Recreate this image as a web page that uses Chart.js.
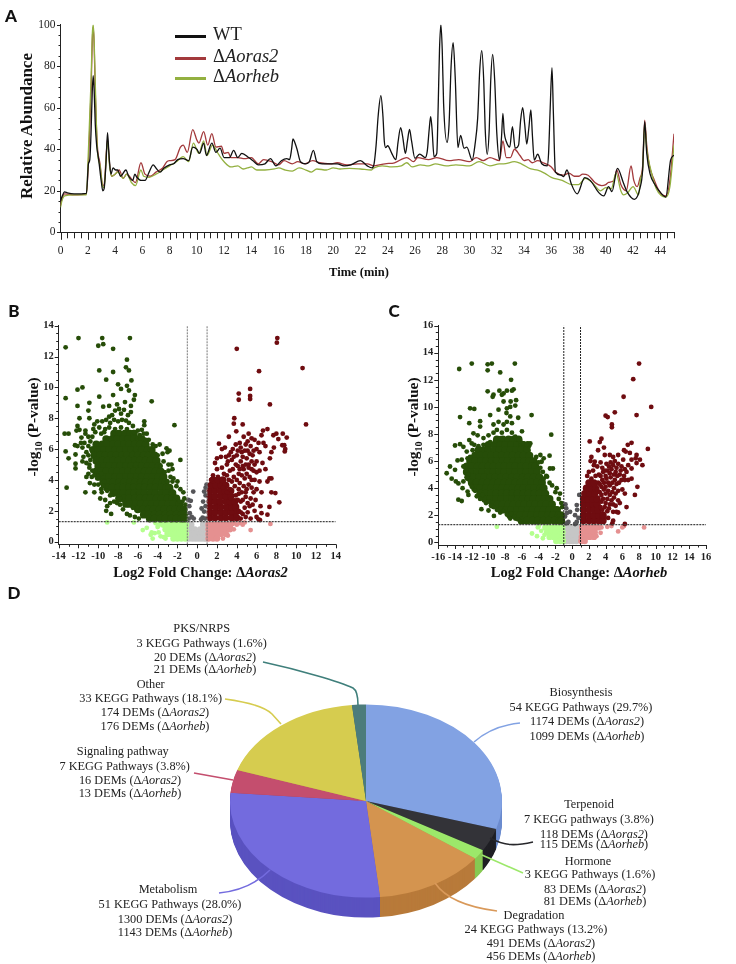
<!DOCTYPE html>
<html>
<head>
<meta charset="utf-8">
<title>Chromatograms, volcano plots and KEGG pie</title>
<script src="https://cdn.jsdelivr.net/npm/chart.js@4"></script>
<style>
html, body { margin: 0; padding: 0; background: #fff; }
#page { position: relative; width: 736px; height: 964px; overflow: hidden; font-family: "Liberation Serif", serif; color: #222; }
canvas { position: absolute; }
#leaders { position: absolute; left: 0; top: 0; }
.t { position: absolute; white-space: nowrap; transform: translate(-50%, -50%); line-height: 1; }
.pie { font-size: 12.3px; }
.panel { font: 900 17px Lato, sans-serif; color: #111; }
.axis { font-weight: bold; color: #111; }
.legend { font-size: 18.5px; transform: translate(0, -50%); }
.swatch { position: absolute; left: 175px; width: 31px; height: 3px; }
sub { font-size: 65%; line-height: 0; }
</style>
</head>
<body>
<div id="page">
<canvas id="chromChart" width="736" height="290" style="left:0;top:0"></canvas>
<canvas id="volcanoB" width="350" height="290" style="left:0;top:300px"></canvas>
<canvas id="volcanoC" width="350" height="290" style="left:380px;top:300px"></canvas>
<canvas id="pieChart" width="300" height="300" style="left:216px;top:650.5px"></canvas>
<svg id="leaders" width="736" height="964" fill="none" stroke-width="1.6">
  <path d="M263 662 C300 670 340 682 353 688 Q358 691 358 705" stroke="#3f7f7b"/>
  <path d="M225 699 Q262 704 272 714 L281 724" stroke="#d6cc4f"/>
  <path d="M194 773 L233 780" stroke="#c44e6e"/>
  <path d="M219 893 Q250 890 270 870" stroke="#736bde"/>
  <path d="M520 723 Q492 726 474 742" stroke="#82a2e3"/>
  <path d="M533 842 C515 846 505 846 490 838" stroke="#27272b"/>
  <path d="M523 873 L482 855" stroke="#9ce86a"/>
  <path d="M497 911 Q450 905 435 883" stroke="#d9995a"/>
</svg>
</div>
<script>
// ---- A: chromatogram ----
const wtTime = [0,0.1,0.3,0.5,1,1.9,2.05,2.15,2.25,2.33,2.4,2.47,2.55,2.65,2.8,3,3.1,3.2,3.35,3.45,3.55,3.7,3.85,4.05,4.2,4.4,4.8,5,5.3,5.45,5.6,5.9,6.2,6.5,6.8,7,7.3,7.6,8,8.3,8.6,9,9.4,9.7,10,10.2,10.5,10.7,11.1,11.4,11.7,12,12.4,12.7,13,13.3,13.8,14.2,14.5,15,15.4,15.8,16.2,16.6,16.8,16.95,17.05,17.2,17.35,17.6,18,18.25,18.55,18.8,19.2,19.8,20.3,20.8,21.3,22,22.5,22.85,23,23.15,23.3,23.5,23.65,23.75,23.85,24,24.3,24.6,24.75,24.95,25.1,25.3,25.45,25.6,25.75,26,26.35,26.75,26.9,27.05,27.15,27.25,27.4,27.6,27.7,27.8,27.9,28,28.1,28.35,28.5,28.65,28.8,28.95,29.15,29.35,29.6,29.8,30.2,30.4,30.6,30.75,30.9,31.05,31.15,31.3,31.45,31.55,31.7,31.85,32,32.2,32.35,32.45,32.55,32.7,32.95,33.15,33.35,33.6,33.75,33.9,34.05,34.2,34.35,34.5,34.62,34.75,35,35.3,35.7,35.8,35.92,36.05,36.15,36.3,36.7,36.9,37.15,37.45,37.9,38.45,38.85,39.5,39.85,40.2,40.45,40.85,41.3,41.55,42.1,42.5,42.7,42.85,43,43.25,43.6,43.9,44.4,44.75,45];
const wtAbund = [15,17,19.5,19,18.5,18.8,33,35,50,68,75.5,68,52,42,35,24,20,21,35,48,38,28,31,30,30,27,30,27,25,28,26.5,25,25,29,32.5,31,29,31,32.5,33,35,35.5,34.5,41,40,38,43,37,43,38.5,40.5,36,36,39.5,36,38,36,34,32.5,33,35.5,32,34.5,35.5,35,40,45,43,40,34,33,34,39.5,34,33,33,33,32,32.5,34.5,32,31,33,42,56,65.8,56,44,40.8,41.7,38,35,43,50.4,46,38,44,49.6,44,35.6,37.7,36,39,50,55.7,50,36.4,38,60,88,100,88,62,43.3,52,80,91.3,75,40.8,46.7,40.5,41,34.8,42,55,78,87.5,72,50,37.6,50,72,85.7,73,48,35,46,57.3,48,43.7,41,50.9,40.5,42,54,60,52,42.5,50,59,46,34.8,37.6,33,32,38,60,79.3,58,29,27.6,26.8,30,23.6,18.5,26.3,25,19,17.5,22,19.6,30.8,23.6,19.6,15.9,21.2,30,53.3,38,28,23,20,17,34.8,37.2];
const orasTime = [0,0.1,0.3,1,1.9,2.1,2.25,2.33,2.4,2.47,2.55,2.7,2.9,3.1,3.2,3.45,3.6,3.75,4,4.3,4.6,4.85,5.3,5.5,5.9,6.2,6.6,7,7.5,7.8,8,8.4,8.8,9,9.3,9.7,10,10.15,10.5,10.8,11.1,11.4,11.8,12,12.3,12.5,13,13.5,14,14.5,14.9,15.5,16,16.4,17,17.4,17.9,18.5,19,19.8,20.3,21,21.8,22.5,23,23.8,24.5,25.4,25.9,26.2,27,27.6,28.5,29.2,30,30.5,31,31.5,32.2,32.45,32.7,33,33.3,33.7,34,34.3,34.6,35,35.4,36,36.3,36.9,37.3,37.7,38,38.3,38.7,39.2,39.7,40,40.2,40.6,40.8,41.1,41.5,41.85,42.05,42.3,42.5,42.7,42.85,43,43.2,43.5,43.9,44.4,44.7,45];
const orasAbund = [13,16,18.5,18,18.5,42,70,92,99,90,68,42,33,22.5,23,45,33,27,28,30,26,28,25,24,33.5,28,27,29,31,34,34.5,35,41,42,38.5,49.5,44.5,43,48.5,42,47.5,41,41.5,38,38.5,36,36,35.5,36,33,35,34,32.5,34.5,33,34,33,34.5,33.5,33,33.5,32.5,33,33,32,33,33.5,36,34,36,35,36,34.5,35,34,36,34.5,36,34.5,44,36,36,40,37,34.5,35,33.5,34.5,33.5,31.5,29,27.5,28.5,27,27,28,27.5,24,22.5,23,24,25,30,23,20,32,25,22,26,32,54,42,32,26,20,17.5,25,47.5];
const rhebTime = [0,0.1,0.3,1,1.9,2.05,2.25,2.33,2.4,2.47,2.55,2.7,2.9,3.1,3.2,3.45,3.6,3.75,4,4.2,4.6,4.85,5.2,5.5,5.9,6.1,6.5,7,7.5,8,8.5,9,9.4,9.75,10.15,10.5,10.75,11.15,11.6,12,12.5,13,13.4,13.7,14,14.4,15,15.7,16,16.5,17,17.5,18,18.4,18.8,19.5,20,20.5,21.2,22,22.8,23,23.6,24.3,25,25.4,25.8,26.4,27,27.5,28.3,29,30,30.7,31.5,32.2,32.5,33.3,33.8,34.5,35,35.5,36,36.8,37.5,38,38.5,39,39.6,40,40.4,40.75,41.1,41.3,41.6,42,42.4,42.55,42.7,42.85,43,43.3,43.7,44.4,44.7,45];
const rhebAbund = [12,15,17.5,18,18,40,75,95,100,92,72,40,32,22,21.5,44,32,27,28,29,26,28,24,22.5,30,27,26.5,28,30,32,34,36.5,34,43,38,44,37,42,37.5,34,31.5,32,30.5,31,31.5,30,30,30.5,31,30,29.5,31,30,29,30.5,30,31,30.5,30.8,30.5,30,31,32,31.5,32,33.5,31.5,32.5,32,33,32,32.5,32,34,32,33,33,34,33,30.5,30,28.5,26.5,25,23,23,26,24,20,21.5,21,28.5,20,18,19,22,18,26,30,52,40,30,21,17,22,42];
const chromXTicks = [0,2,4,6,8,10,12,14,16,18,20,22,24,26,28,30,32,34,36,38,40,42,44];
const chromYTicks = [0,20,40,60,80,100];

// ---- B: volcano, oras2 ----
const bXTicks = [-14,-12,-10,-8,-6,-4,-2,0,2,4,6,8,10,12,14];
const bYTicks = [0,2,4,6,8,10,12,14];
// rows start with the y value, the rest are x values, drawn with a fatter dot where the cloud is solid
const bDownRows = [
  [7.0,-8.4,-7.9,-7.3,-6.8,-6.4],
  [6.65,-9.2,-8.6,-8.1,-7.5,-7,-6.4,-5.9,-5.6],
  [6.3,-10.2,-9.6,-9.1,-8.5,-8,-7.4,-6.9,-6.3,-5.8,-5.2],
  [5.95,-10.5,-10,-9.4,-8.9,-8.3,-7.8,-7.2,-6.7,-6.1,-5.6,-5,-4.6],
  [5.6,-10.4,-9.8,-9.3,-8.7,-8.2,-7.6,-7.1,-6.5,-6,-5.4,-4.9,-4.3],
  [5.25,-10.2,-9.6,-9.1,-8.5,-8,-7.4,-6.9,-6.3,-5.8,-5.2,-4.7,-4.1],
  [4.9,-10,-9.4,-8.9,-8.3,-7.8,-7.2,-6.7,-6.1,-5.6,-5,-4.5,-3.9],
  [4.55,-10.2,-9.7,-9.2,-8.6,-8.1,-7.5,-7,-6.4,-5.9,-5.3,-4.8,-4.2,-3.7],
  [4.2,-9.9,-9.4,-8.9,-8.3,-7.8,-7.2,-6.7,-6.1,-5.6,-5,-4.5,-3.9,-3.4],
  [3.85,-9.5,-9,-8.5,-7.9,-7.4,-6.8,-6.3,-5.7,-5.2,-4.6,-4.1,-3.5,-3.2],
  [3.5,-9.1,-8.6,-8,-7.5,-6.9,-6.4,-5.8,-5.3,-4.7,-4.2,-3.6,-3.1,-2.8],
  [3.15,-8.5,-8,-7.5,-6.9,-6.4,-5.8,-5.3,-4.7,-4.2,-3.6,-3.1,-2.5],
  [2.8,-7.9,-7.4,-6.9,-6.3,-5.8,-5.2,-4.7,-4.1,-3.6,-3,-2.5,-2.1],
  [2.45,-7.2,-6.8,-6.2,-5.7,-5.1,-4.6,-4,-3.5,-2.9,-2.4,-1.8],
  [2.1,-6,-5.5,-4.9,-4.4,-3.8,-3.3,-2.7,-2.2,-1.7,-1.35],
  [1.75,-5.4,-4.9,-4.3,-3.8,-3.2,-2.7,-2.1,-1.6,-1.3],
  [1.5,-4.8,-4.3,-3.7,-3.2,-2.6,-2.1,-1.6,-1.3]
];
const bDownDots = [[-13.3,12.6],[-12,13.2],[-9.6,13.2],[-6.8,13.2],[-10,12.7],[-9.5,12.8],[-8.5,12.5],[-7.1,11.8],[-7.2,11.3],[-6.9,11.1],[-9.9,11.1],[-8.5,11],[-9.2,10.5],[-6.65,10.45],[-11.6,10],[-12.1,9.85],[-8,10.2],[-7.1,10.1],[-7.7,9.9],[-6.9,9.8],[-6.3,9.5],[-9.9,9.4],[-8.5,9.5],[-13.3,9.3],[-4.6,9.1],[-6.4,9.2],[-10.9,9],[-12.1,8.8],[-11,8.5],[-9.5,8.75],[-8.9,8.8],[-8.1,8.9],[-7.3,9.05],[-6.7,8.8],[-11.9,8],[-10.9,8],[-12.1,7.5],[-12.2,7.2],[-11.9,7.25],[-13.4,7],[-13,7],[-2.3,7.55],[-5.35,7.8],[-5.35,7.55],[-11.7,6.75],[-11.3,7],[-11.75,6.4],[-12.1,6.2],[-12.35,6.25],[-13.3,5.85],[-13,5.4],[-12.3,5.65],[-12.3,5.05],[-12.3,4.75],[-11.6,5.2],[-1.7,5.3],[-13.2,3.5],[-11.3,3.2],[-11.2,4.2],[-10.65,4.2],[-10.85,3.8],[-10.4,3.2],[-9.65,3.2],
  [-8.9,8.1],[-8.6,8.2],[-8.3,8.5],[-7.9,8.6],[-7.7,8.3],[-7.4,8.55],[-7,8.2],[-6.7,8.4],[-8.8,7.7],[-8.4,7.9],[-8,7.8],[-7.6,7.9],[-7.2,7.85],[-6.9,7.7],[-6.5,7.5],[-9.3,7.3],[-9.7,7],[-6,7.2],[-5.6,7.25],[-5.4,7],[-5.1,7],[-4.9,6.6],[-4.5,6.3],[-4.2,6.2],[-3.8,6.3],[-3.1,6.05],[-3,5.8],[-2.8,5.9],[-3.5,5.7],[-4,5.6],[-3.4,5.2],[-2.9,5],[-2.6,5],[-2.5,4.7],[-2.9,4.6],[-2.7,4.2],[-2.5,3.9],[-2.4,4.1],[-2.1,3.6],[-2,3.9],[-1.7,3.4],[-1.4,3.2],[-1.3,2.8],[-1.5,2.6],[-1.2,2.4],
  [-11.3,7.2],[-11,6.8],[-10.8,6.5],[-11.4,6.4],[-11.6,6.1],[-11,6.2],[-10.6,6.8],[-10.3,7.1],[-10.1,7.8],[-10.4,7.6],[-9.9,7.4],[-9.6,7.8],[-9.2,7.9],[-11.2,5.8],[-11,5.6],[-10.8,5.3],[-10.9,5],[-10.6,4.6],[-10.4,4.3],[-10.1,4.1],[-10,3.7],[-10.4,3.7],[-9.7,3.4],[-9.5,3.6],[-9.8,2.8],[-9.3,2.7],[-9.1,2.3],[-9.2,2],[-8.8,2.5],[-8.7,1.8],[-8.4,2.6],[-8.1,2.5],[-7.8,2.4],[-7.5,2.1],[-7.1,1.8],[-6.8,1.7],[-6.5,2.2],[-6.3,1.6],[-5.9,1.5],[-7.8,2.8],[-8.3,3.2],[-8.8,3],[-9.1,3.3],[-9.4,3.9],[-9.7,4.4],[-11.5,5.5],[-11.2,5.1],[-10.9,4.8],[-11,4.4],[-10.7,6],[-10.5,7.3],[-9.4,7.1],[-8.9,7.4],[-8.3,7.3],[-7.7,7.4],[-7.1,7.3],[-6.4,7.1],[-5.8,6.9],[-5.2,6.6],[-4.6,5.9],[-3.7,4.9],[-3.3,4.5],[-3,3.9],[-2.6,3.3],[-2.2,2.9],[-1.8,2.6]];
const bUpRows = [
  [1.55,1.3,1.8,2.4,2.9,3.5,4],
  [1.9,1.3,1.8,2.4,2.9,3.4,3.9],
  [2.25,1.3,1.9,2.4,3,3.5,3.9],
  [2.6,1.3,1.8,2.3,2.9,3.3,3.8],
  [2.95,1.3,1.8,2.4,2.9,3.4],
  [3.3,1.3,1.8,2.3,2.8,3.4],
  [3.65,1.4,1.9,2.4,2.9],
  [4,1.6,2.1,2.6]
];
const bUpDots = [[8.1,13.2],[8.05,12.9],[4,12.5],[10.65,11.25],[6.25,11.05],[5.35,9.9],[4.2,9.6],[5.35,9.45],[5.35,9.25],[4.2,9.2],[7.35,8.9],[3.75,8],[11,7.6],[3.7,7.65],[4.6,7.6],[3.95,7.15],[3.2,6.8],[7.1,7.3],[6.65,7.2],[6.5,6.9],[8,7],[7.7,6.9],[8.65,7],[9.05,6.75],[8.2,6.65],[8.6,6.25],[8.8,6.25],[8.9,6],[8.85,5.85],[7.75,6.1],[7.5,5.8],[7.35,5.4],[7.3,4.1],[7.5,4.1],[7.1,3.9],[7.5,3.2],[7.9,3.15],[8.3,2.55],[7.3,2.25],[7.1,1.75],[6.5,1.85],[6.35,1.4],[6.2,1.45],
  [2.2,6.35],[2.5,6],[2.4,5.5],[2,5.4],[1.8,5.1],[2.9,5.5],[3.2,5.6],[3.6,6],[3.9,6.3],[4.3,6.4],[4.7,6.8],[5.2,7],[5.5,6.7],[4.9,6.3],[5.4,6.2],[5.8,6.6],[6.2,6.4],[6.7,6.4],[6.9,6.2],[6.3,5.8],[5.7,5.9],[5.1,5.9],[4.5,5.8],[4,5.6],[3.5,5.3],[3,5],[2.5,4.8],[2,4.7],[1.6,4.3],[1.4,4],[2.1,4.2],[2.7,4.4],[3.3,4.6],[3.9,5],[4.4,5.2],[5,5.4],[5.5,5.2],[6,5.2],[6.6,5.1],[6.9,4.7],[6.3,4.6],[5.7,4.6],[5.2,4.8],[4.7,4.7],[4.2,4.4],[3.7,4.2],[3.2,4],[2.8,3.7],[3.3,3.4],[3.8,3.6],[4.3,3.8],[4.8,4.1],[5.3,4.2],[5.8,4],[6.3,3.9],[4.5,3.2],[5,3.4],[5.5,3.5],[6,3.4],[6.5,3.2],[3.9,3],[4.4,2.6],[4.9,2.9],[5.4,2.8],[5.9,2.7],[6.4,2.3],[3.8,2.3],[4.2,2],[4.8,2.2],[5.3,2.3],[5.8,2],[6,1.6],[3.9,1.7],[4.4,1.5],[4.9,1.6],[5.4,1.5],[3.5,1.9],[3,3.2],[2.6,3.5],[3.4,2.8],
  [2.8,6.1],[3.1,5.2],[3.4,5.8],[3.7,5.5],[4.1,5.9],[4.4,6.1],[4.6,5.5],[4.8,5.9],[5.1,6.5],[5.3,5.7],[5.6,5.6],[6,6],[4.1,4.9],[4.3,4.7],[4.6,4.9],[4.9,5],[5.2,5],[5.5,4.7],[5.8,5],[3.6,4.7],[3,4.3],[3.5,3.9],[4,4],[4.5,4.3],[5,4.4],[5.5,4],[6,4.5],[4.2,3.4],[4.7,3.6],[5.2,3.7],[5.7,3.2],[4.6,2.7],[5.1,2.5],[5.6,2.4],[4.1,2.7],[4.6,1.8],[5.1,1.9],[4.2,3.1],[4.9,3.2],[4.4,1.9]];
const bLowDownRows = [
  [1.1,-3.4,-3,-2.6,-2.2,-1.8,-1.4,-1.15],
  [0.8,-3.2,-2.8,-2.4,-2,-1.6,-1.2],
  [0.5,-3,-2.6,-2.2,-1.8,-1.4,-1.15],
  [0.2,-2.4,-2,-1.6,-1.2]
];
const bLowDownDots = [[-9.1,1.25],[-6.4,1.25],[-5.5,0.75],[-5.1,0.9],[-4.7,0.45],[-4.5,0.2],[-4.6,0.6],[-4.3,0.55],[-4.2,1.2],[-4,0.95],[-3.9,0.6],[-3.7,0.35],[-3.4,0.3],[-3.2,0.2],[-3.7,1.2],[-3.9,1.05]];
const bLowUpRows = [
  [1.1,1.15,1.6,2,2.4,2.8,3.2],
  [0.8,1.15,1.6,2,2.4,2.8,3.3],
  [0.5,1.15,1.6,2,2.4,2.9],
  [0.2,1.15,1.6,2]
];
const bLowUpDots = [[3.6,1.15],[4,1.1],[4.3,1.2],[4.6,1.1],[4.8,1.25],[3.4,0.95],[3.7,0.8],[3.1,0.4],[2.6,0.2],[5.4,0.75],[7.4,1.15],[3.7,1.25]];
const bNsRows = [
  [1.1,-0.9,-0.6,0.6,0.9],
  [0.8,-0.9,-0.55,-0.25,0.3,0.6,0.9],
  [0.5,-0.9,-0.6,-0.3,0,0.3,0.6,0.9],
  [0.2,-0.85,-0.5,-0.2,0.1,0.4,0.7,0.9]
];
const bMidDots = [[-0.4,3.25],[-0.9,2.7],[-0.65,2.65],[-0.8,2.3],[-0.75,1.85],[-0.55,1.6],[-0.35,1.5],[-0.85,1.5],[0.7,3.25],[0.85,3],[0.6,2.6],[0.45,2.15],[0.7,1.95],[0.55,1.55],[0.4,1.45],[0.8,1.5],[0.85,2.3],[0.85,3.5],[0.95,3.7]];
// ---- C: volcano, orheb ----
const cXTicks = [-16,-14,-12,-10,-8,-6,-4,-2,0,2,4,6,8,10,12,14,16];
const cYTicks = [0,2,4,6,8,10,12,14,16];
const cDownRows = [
  [7.6,-9,-8.3,-7.6,-7,-6.4],
  [7.2,-10,-9.3,-8.6,-8,-7.3,-6.6,-5.9,-5.3],
  [6.8,-11.2,-10.6,-10,-9.3,-8.7,-8,-7.4,-6.7,-6.1,-5.4],
  [6.4,-11.6,-11,-10.3,-9.7,-9,-8.4,-7.7,-7.1,-6.4,-5.8,-5.1],
  [6,-12.2,-11.6,-10.9,-10.3,-9.6,-9,-8.3,-7.7,-7,-6.4,-5.7,-5.1,-4.6],
  [5.6,-12.6,-12,-11.3,-10.7,-10,-9.4,-8.7,-8.1,-7.4,-6.8,-6.1,-5.5,-4.8,-4.4],
  [5.2,-12.6,-12,-11.3,-10.7,-10,-9.4,-8.7,-8.1,-7.4,-6.8,-6.1,-5.5,-4.8,-4.2],
  [4.8,-12.4,-11.8,-11.1,-10.5,-9.8,-9.2,-8.5,-7.9,-7.2,-6.6,-5.9,-5.3,-4.6,-3.9],
  [4.4,-12,-11.4,-10.7,-10.1,-9.4,-8.8,-8.1,-7.5,-6.8,-6.2,-5.5,-4.9,-4.2,-3.6],
  [4,-11.6,-11,-10.3,-9.7,-9,-8.4,-7.7,-7.1,-6.4,-5.8,-5.1,-4.5,-3.8,-3.4],
  [3.6,-11,-10.4,-9.7,-9.1,-8.4,-7.8,-7.1,-6.5,-5.8,-5.2,-4.5,-3.9,-3.2],
  [3.2,-10.4,-9.8,-9.1,-8.5,-7.8,-7.2,-6.5,-5.9,-5.2,-4.6,-3.9,-3.3,-2.7],
  [2.8,-9.5,-8.9,-8.3,-7.6,-7,-6.3,-5.7,-5,-4.4,-3.7,-3.1,-2.4],
  [2.4,-8.5,-7.9,-7.3,-6.6,-6,-5.3,-4.7,-4,-3.4,-2.7,-2.1,-1.8],
  [2,-7.4,-6.8,-6.2,-5.5,-4.9,-4.2,-3.6,-2.9,-2.3,-1.6,-1.35],
  [1.6,-6,-5.4,-4.7,-4.1,-3.4,-2.8,-2.1,-1.5,-1.3]
];
const cDownDots = [[-13.5,12.8],[-12,13.2],[-10.1,13.15],[-9.6,13.2],[-6.85,13.2],[-10.1,12.7],[-8.6,12.55],[-7.3,12],[-10.1,11.15],[-8.7,11.2],[-7.8,11.2],[-9.4,10.9],[-9.5,10.75],[-8.4,10.9],[-8.2,11],[-7.2,11.2],[-7,11.3],[-6.7,10.5],[-7.35,10.4],[-8.2,10.4],[-6.8,10.1],[-7.4,10],[-12.2,9.9],[-11.7,9.85],[-8.8,9.8],[-7.8,9.9],[-9.8,9.4],[-7.85,9.55],[-4.85,9.4],[-13.4,9.25],[-7.4,9.3],[-6.45,9.2],[-12.3,8.8],[-11,8.95],[-9.4,8.7],[-8.8,8.9],[-8.2,8.7],[-7.8,8.9],[-7.2,8.8],[-6,8.2],[-11.8,8.05],[-11,8.55],[-2.5,7.95],[-12.3,7.55],[-13.4,7.25],[-14,7.15],[-13,7.05],[-12,7.3],[-5,7.3],[-6.2,7.45],[-3.8,6.45],[-2.7,6.4],[-3.4,6.2],[-3.65,5.95],[-13.7,6.05],[-13.2,6.1],[-12.5,6.2],[-15,5.1],[-14.6,5.6],[-14,5.35],[-14.4,4.7],[-13.9,4.5],[-13.6,4.35],[-13,4.5],[-13.1,4],[-12.5,3.75],[-13.6,3.15],[-13.2,3.05],[-12.4,3.5],[-10.85,2.45],[-10,2.35],[-9.35,1.95],[-7.4,1.75],[-6.8,1.75],[-2.65,5.45],[-2.3,5.45],[-3,4.85],[-3.4,4.7],[-1.85,4],[-1.45,3.6],
  [-11.3,7.9],[-10.6,7.7],[-10,7.9],[-9.4,8.1],[-9,8.3],[-8.4,8.1],[-7.8,8.3],[-7.2,8.1],[-6.8,7.8],[-6.4,7.6],[-5.8,7.3],[-5.4,7.2],[-11.7,7.2],[-11.2,7.1],[-10.6,7.2],[-9.8,7.4],[-9.2,7.5],[-8.6,7.7],[-12.6,6.7],[-12.2,6.3],[-11.9,6.8],[-13,5.6],[-12.7,5.3],[-12.4,5],[-12.6,4.8],[-12.2,4.5],[-12,4.1],[-11.6,3.8],[-11.4,3.4],[-11,3.2],[-10.7,3.5],[-10.3,2.9],[-10,3],[-9.7,2.7],[-9.4,2.6],[-9,2.4],[-8.6,2.2],[-8.2,2.3],[-7.8,2.05],[-7.3,2.1],[-6.9,1.9],[-6.5,1.7],[-6.2,1.5],[-4.3,6.3],[-4,5.9],[-3.8,5.5],[-3.5,5.2],[-3.1,4.9],[-2.7,4.4],[-2.4,4.2],[-2,3.7],[-1.6,3.2],[-1.3,2.9],[-1.2,2.6]];
const cUpRows = [
  [1.6,1.35,2,2.6,3.2,3.7],
  [2,1.35,2,2.6,3.2,3.7],
  [2.4,1.35,2,2.6,3.1],
  [2.8,1.35,2,2.5,3],
  [3.2,1.35,1.9,2.5,3],
  [3.6,1.5,2.1,2.7],
  [4,1.7,2.3,2.8],
  [4.4,2,2.6]
];
const cUpDots = [[8,13.2],[7.3,12.05],[6.15,10.75],[9.45,10],[7.7,9.4],[5.1,9.6],[4,9.35],[4.25,9.25],[4.75,8.7],[4.75,8.5],[3.5,7.65],[2.1,7.45],[3.3,7.4],[3.8,7],[3.1,6.8],[7.1,7.35],[6.65,7.2],[9.05,6.9],[6.2,6.8],[6.4,6.7],[6.9,6.6],[7.7,6.45],[8.1,6.1],[7.6,6.2],[7.1,6.1],[8.4,5.7],[2.3,6.3],[2.2,6],[2.7,5.95],[3.9,6.45],[4.5,6.45],[4.9,6.3],[5.5,6.45],[6.1,6.1],[6.7,5.7],[7.1,5.45],[7.7,5.85],[7.8,4.1],[7.5,3.5],[6.5,2.6],[6.3,3.6],[7.1,4.7],[6.7,4.6],[6.3,4.6],[6.3,1.35],[4.8,1.4],[4.9,2.25],[5.3,2.25],
  [2,5.2],[2.5,5.3],[3,5.6],[3.4,5.9],[4.1,5.8],[4.6,5.9],[5.1,6],[5.5,5.8],[5.9,5.6],[6.3,5.4],[1.8,4.9],[2.3,4.7],[2.8,4.9],[3.2,5],[3.7,5.2],[4.2,5.3],[4.7,5.4],[5.2,5.2],[5.7,5],[6.2,4.9],[3.1,4.4],[3.6,4.6],[4.1,4.7],[4.6,4.8],[5.1,4.6],[5.6,4.4],[3,3.9],[3.5,4.1],[4,4.1],[4.5,4.2],[5,4],[5.5,3.8],[6,3.9],[3.5,3.5],[4,3.6],[4.5,3.5],[5,3.3],[5.5,3.1],[3.5,3],[4,2.9],[4.5,2.8],[5.2,2.7],[5.7,2.9],[3.6,2.4],[4.2,2.3],[3.7,1.9],[4.3,1.8],[4.9,1.6],[5.5,2.2],
  [2.6,5.7],[3.6,5.5],[3.9,5.3],[4.4,5.6],[4.9,5.7],[5.3,5.5],[5.8,5.3],[6.5,5.2],[3.4,4.9],[4,4.9],[4.5,5.1],[5,5],[5.4,4.9],[5.9,4.6],[3.3,4.3],[3.8,4.4],[4.3,4.4],[4.8,4.4],[5.3,4.3],[3.3,3.7],[3.8,3.9],[4.3,3.8],[4.8,3.7],[5.2,3.6],[3.7,3.2],[4.2,3.2],[4.7,3.1],[3.4,2.6],[3.9,2.6],[4.4,2.5],[4.9,2.8]];
const cLowDownRows = [
  [1.1,-3.2,-2.7,-2.2,-1.7,-1.2],
  [0.75,-3,-2.5,-2,-1.5,-1.15],
  [0.4,-2.7,-2.2,-1.7,-1.2],
  [0.1,-1.9,-1.4,-1.1]
];
const cLowDownDots = [[-9,1.15],[-4.8,0.65],[-4.2,0.45],[-4.1,1.1],[-3.7,0.85],[-3.5,0.3],[-3.3,0.55],[-4,1.2]];
const cLowUpRows = [
  [1.1,1.2,1.7,2.2,2.7,3.1],
  [0.75,1.2,1.7,2.2,2.7],
  [0.4,1.15,1.6,2.1,2.6],
  [0.1,1.1,1.5]
];
const cLowUpDots = [[3.5,1.1],[4.2,1.15],[4.7,1.2],[5.5,0.8],[6,1.1],[6.2,1.2],[8.6,1.1],[3.4,0.7],[2.9,0.45]];
const cNsRows = [
  [1.1,-0.8,-0.45,0.1,0.6],
  [0.75,-0.8,-0.4,0,0.4,0.7],
  [0.4,-0.8,-0.4,0,0.4,0.7],
  [0.1,-0.7,-0.3,0.1,0.5]
];
const cMidDots = [[-0.8,2.8],[-0.7,2.5],[-0.25,2.25],[-0.65,2.15],[-0.85,1.9],[-0.45,1.5],[-0.7,1.4],[0.85,3.5],[0.55,2.75],[0.6,2.4],[0.35,2],[0.75,1.8],[0.55,1.5],[0.35,1.35]];

// ---- D: pie ----
const pieNames = ['Biosynthesis','Terpenoid','Hormone','Degradation','Metabolism','Signaling pathway','Other','PKS/NRPS'];
const piePathways = [54,7,3,24,51,7,33,3];
const pieTop = ['#82a2e3','#333338','#9ce86a','#d4944f','#736bde','#c44e6e','#d6cc4f','#4c7c7c'];
const pieSide = ['#6c8ccf','#1f1f24','#86c952','#b87a3a','#5a52c0','#a83e5a','#b5ab3e','#3a6363'];

const serif = '"Liberation Serif", serif';
const fromPairs = a => a.map(([x, y]) => ({ x, y }));
const fromRows = rows => rows.flatMap(([y, ...xs]) => xs.map(x => ({ x, y })));
const zip = (xs, ys) => xs.map((x, i) => ({ x, y: ys[i] }));

// draws major and minor tick marks (chart.js only has one tick length)
const tickMarks = {
  id: 'tickMarks',
  afterDraw(chart, args, opts) {
    const ctx = chart.ctx;
    const xs = chart.scales.x, ys = chart.scales.y;
    ctx.save();
    ctx.strokeStyle = '#222';
    ctx.lineWidth = 1;
    ctx.beginPath();
    for (let v = xs.min; v <= xs.max + 1e-6; v += opts.xStep) {
      const px = Math.round(xs.getPixelForValue(v)) + 0.5;
      const len = opts.xMajor.includes(v) ? opts.xLen[0] : opts.xLen[1];
      ctx.moveTo(px, xs.top);
      ctx.lineTo(px, xs.top + len);
    }
    for (let v = 0; v <= ys.max + 1e-6; v += opts.yStep) {
      const py = Math.round(ys.getPixelForValue(v)) + 0.5;
      const len = opts.yMajor.includes(v) ? opts.yLen[0] : opts.yLen[1];
      ctx.moveTo(ys.right, py);
      ctx.lineTo(ys.right - len, py);
    }
    ctx.stroke();
    ctx.restore();
  }
};

function axisScale(min, max, ticks, fit, fontSize, bold, tickLength, pad) {
  return {
    type: 'linear', min, max,
    afterBuildTicks: s => { s.ticks = ticks.map(value => ({ value })); },
    afterFit: fit,
    grid: { display: false, tickLength },
    border: { display: true, color: '#222', width: 1 },
    ticks: {
      autoSkip: false, maxRotation: 0, padding: pad, color: '#222',
      font: { family: serif, size: fontSize, weight: bold ? 'bold' : 'normal' },
      callback: v => String(v)
    }
  };
}

// --- Chromatogram ---
new Chart(document.getElementById('chromChart'), {
  type: 'scatter',
  data: {
    datasets: [
      { label: 'WT', data: zip(wtTime, wtAbund), borderColor: '#111', order: 1 },
      { label: 'Aorheb', data: zip(rhebTime, rhebAbund), borderColor: '#93b040', order: 2 },
      { label: 'Aoras2', data: zip(orasTime, orasAbund), borderColor: '#a33a3c', order: 3 }
    ].map(d => ({ ...d, showLine: true, pointRadius: 0, borderWidth: 1.3, cubicInterpolationMode: 'monotone' }))
  },
  options: {
    responsive: false, animation: false,
    layout: { padding: { left: 30.5, right: 62, top: 24.7, bottom: 30.7 } },
    scales: {
      x: axisScale(0, 45, chromXTicks, s => { s.height = 27; }, 11.5, false, 8, 4),
      y: axisScale(0, 100, chromYTicks, s => { s.width = 30; }, 11.5, false, 4, 1)
    },
    plugins: {
      legend: { display: false }, tooltip: { enabled: false },
      tickMarks: { xStep: 0.5, yStep: 5, xMajor: chromXTicks, yMajor: chromYTicks, xLen: [7.5, 6], yLen: [3.5, 2] }
    }
  },
  plugins: [tickMarks]
});

// --- Volcanoes ---
function volcano(id, cfg) {
  const dot = (data, color, r, order) => ({ data, backgroundColor: color, borderWidth: 0, pointRadius: r, order });
  const rule = (data, color, width, dash) => ({ data, showLine: true, pointRadius: 0, borderColor: color, borderWidth: width, borderDash: dash, order: 0 });
  return new Chart(document.getElementById(id), {
    type: 'scatter',
    data: {
      datasets: [
        rule([{ x: cfg.xMin, y: 1.3 }, { x: cfg.xMax, y: 1.3 }], '#444', 1.2, [2, 1]),
        rule([{ x: -1, y: cfg.yMin }, { x: -1, y: cfg.yMax }], cfg.vColor, 1, [2, 1]),
        rule([{ x: 1, y: cfg.yMin }, { x: 1, y: cfg.yMax }], cfg.vColor, 1, [2, 1]),
        dot(fromPairs(cfg.downDots), '#264d08', 2.4, 1),
        dot(fromRows(cfg.downRows), '#264d08', 3.9, 1),
        dot(fromPairs(cfg.upDots), '#6f0c10', 2.4, 2),
        dot(fromRows(cfg.upRows), '#6f0c10', 3.6, 2),
        dot(fromPairs(cfg.midDots), '#555558', 2.4, 3),
        dot(fromPairs(cfg.lowDownDots), '#b4ff8e', 2.4, 4),
        dot(fromRows(cfg.lowDownRows), '#b4ff8e', 3.2, 4),
        dot(fromPairs(cfg.lowUpDots), '#e59090', 2.4, 5),
        dot(fromRows(cfg.lowUpRows), '#e59090', 3.2, 5),
        dot(fromRows(cfg.nsRows), '#c6c6c6', 3.2, 6)
      ]
    },
    options: {
      responsive: false, animation: false,
      layout: { padding: cfg.padding },
      scales: {
        x: axisScale(cfg.xMin, cfg.xMax, cfg.xTicks, s => { s.height = 20; }, 10.5, true, 4, 2),
        y: axisScale(cfg.yMin, cfg.yMax, cfg.yTicks, s => { s.width = 28; }, 10.5, true, 4, 1)
      },
      plugins: {
        legend: { display: false }, tooltip: { enabled: false },
        tickMarks: { xStep: 1, yStep: 0.5, xMajor: cfg.xTicks, yMajor: cfg.yTicks, xLen: [4, 2.5], yLen: [4, 2.5] }
      }
    },
    plugins: [tickMarks]
  });
}

volcano('volcanoB', {
  xMin: -14, xMax: 14, yMin: -0.17, yMax: 14, xTicks: bXTicks, yTicks: bYTicks, vColor: '#777',
  padding: { left: 30.7, right: 14.3, top: 25.7, bottom: 25.7 },
  downDots: bDownDots, downRows: bDownRows, upDots: bUpDots, upRows: bUpRows, midDots: bMidDots,
  lowDownDots: bLowDownDots, lowDownRows: bLowDownRows, lowUpDots: bLowUpDots, lowUpRows: bLowUpRows, nsRows: bNsRows
});
volcano('volcanoC', {
  xMin: -16, xMax: 16, yMin: -0.2, yMax: 16, xTicks: cXTicks, yTicks: cYTicks, vColor: '#222',
  padding: { left: 30.3, right: 24, top: 25.7, bottom: 25 },
  downDots: cDownDots, downRows: cDownRows, upDots: cUpDots, upRows: cUpRows, midDots: cMidDots,
  lowDownDots: cLowDownDots, lowDownRows: cLowDownRows, lowUpDots: cLowUpDots, lowUpRows: cLowUpRows, nsRows: cNsRows
});

// --- Pie: the arcs are squashed into an ellipse, the side wall is the same arcs redrawn lower down ---
const pieTilt = 0.71, pieDepth = 20;
const tiltedPie = {
  id: 'tiltedPie',
  beforeDatasetsDraw(chart) {
    const ctx = chart.ctx;
    const arcs = chart.getDatasetMeta(0).data;
    const cx = arcs[0].x, cy = arcs[0].y;
    for (let d = pieDepth; d >= 1; d--) {
      ctx.save();
      ctx.translate(cx, cy + d);
      ctx.scale(1, pieTilt);
      ctx.translate(-cx, -cy);
      arcs.forEach((arc, i) => {
        const side = Object.create(arc);
        side.options = { ...arc.options, backgroundColor: pieSide[i], borderWidth: 0 };
        side.draw(ctx);
      });
      ctx.restore();
    }
    ctx.save();
    ctx.translate(cx, cy);
    ctx.scale(1, pieTilt);
    ctx.translate(-cx, -cy);
  },
  afterDatasetsDraw(chart) {
    chart.ctx.restore();
  }
};

new Chart(document.getElementById('pieChart'), {
  type: 'pie',
  data: { labels: pieNames, datasets: [{ data: piePathways, backgroundColor: pieTop, borderWidth: 0 }] },
  options: {
    responsive: false, animation: false,
    layout: { padding: 14 },
    plugins: { legend: { display: false }, tooltip: { enabled: false } }
  },
  plugins: [tiltedPie]
});

// --- Text ---
const page = document.getElementById('page');
function put(x, y, html, cls, style) {
  const el = document.createElement('div');
  el.className = 't ' + (cls || '');
  el.style.left = x + 'px';
  el.style.top = y + 'px';
  el.innerHTML = html;
  if (style) el.style.cssText += style;
  page.appendChild(el);
}
const oras = '(Δ<i>Aoras2</i>)', rheb = '(Δ<i>Aorheb</i>)';

put(11, 15, 'A', 'panel');
put(14, 310, 'B', 'panel');
put(394, 310, 'C', 'panel');
put(14, 592, 'D', 'panel');

put(26, 126, 'Relative Abundance', 'axis', 'font-size:17px;transform:translate(-50%,-50%) rotate(-90deg)');
put(359, 272, 'Time (min)', 'axis', 'font-size:12.5px');
put(33, 427, '-log<sub>10</sub> (P-value)', 'axis', 'font-size:15.5px;transform:translate(-50%,-50%) rotate(-90deg)');
put(413, 427, '-log<sub>10</sub> (P-value)', 'axis', 'font-size:15.5px;transform:translate(-50%,-50%) rotate(-90deg)');
put(200.5, 572, 'Log2 Fold Change: Δ<i>Aoras2</i>', 'axis', 'font-size:14.5px');
put(579, 572, 'Log2 Fold Change: Δ<i>Aorheb</i>', 'axis', 'font-size:14.5px');

[['WT', 34, '#111'], ['Δ<i>Aoras2</i>', 56, '#a33a3c'], ['Δ<i>Aorheb</i>', 76, '#93b040']].forEach(([label, y, color]) => {
  put(213, y, label, 'legend');
  const sw = document.createElement('div');
  sw.className = 'swatch';
  sw.style.top = (y + 1) + 'px';
  sw.style.background = color;
  page.appendChild(sw);
});

const pieText = [
  [201.7, 628, 'PKS/NRPS'], [201.7, 643, '3 KEGG Pathways (1.6%)'], [205, 657, '20 DEMs ' + oras], [205, 669, '21 DEMs ' + rheb],
  [150.7, 684, 'Other'], [150.7, 698, '33 KEGG Pathways (18.1%)'], [155, 712, '174 DEMs ' + oras], [155, 726, '176 DEMs ' + rheb],
  [122.8, 751, 'Signaling pathway'], [124.7, 765.7, '7 KEGG Pathways (3.8%)'], [130, 779.7, '16 DEMs ' + oras], [130, 793, '13 DEMs ' + rheb],
  [168, 889, 'Metabolism'], [170, 904, '51 KEGG Pathways (28.0%)'], [175, 919, '1300 DEMs ' + oras], [175, 932, '1143 DEMs ' + rheb],
  [581, 692, 'Biosynthesis'], [581, 707, '54 KEGG Pathways (29.7%)'], [587, 721, '1174 DEMs ' + oras], [587, 736, '1099 DEMs ' + rheb],
  [589, 804, 'Terpenoid'], [589, 819, '7 KEGG pathways (3.8%)'], [594, 834, '118 DEMs ' + oras], [594, 844, '115 DEMs ' + rheb],
  [588, 861, 'Hormone'], [590, 874, '3 KEGG Pathways (1.6%)'], [595, 889, '83 DEMs ' + oras], [595, 901, '81 DEMs ' + rheb],
  [534, 915, 'Degradation'], [536, 929, '24 KEGG Pathways (13.2%)'], [541, 943, '491 DEMs ' + oras], [541, 956, '456 DEMs ' + rheb]
];
pieText.forEach(([x, y, html]) => put(x, y, html, 'pie'));
</script>
</body>
</html>
